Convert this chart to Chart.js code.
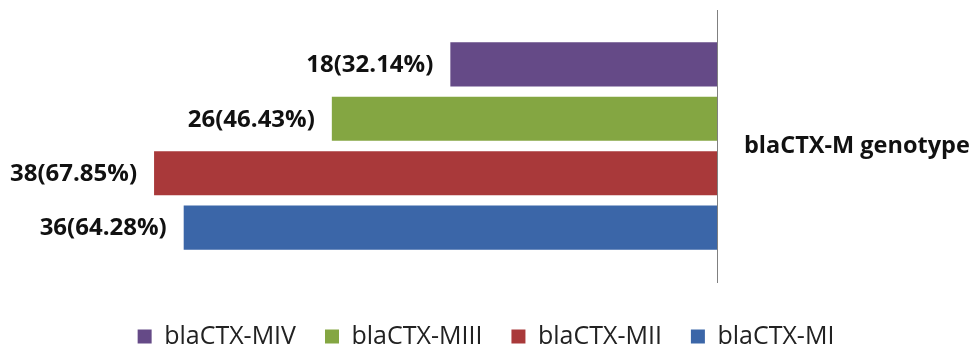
<!DOCTYPE html>
<html>
<head>
<meta charset="utf-8">
<script src="https://cdn.jsdelivr.net/npm/chart.js@4/dist/chart.umd.min.js"></script>
<style>
  html, body { margin: 0; padding: 0; background: #fff; }
  #wrap { width: 972px; height: 351px; }
</style>
</head>
<body>
<div id="wrap"><canvas id="chart"></canvas></div>
<script>
// --- datos ---
const categories = ['blaCTX-M genotype'];
const seriesNames = ['blaCTX-MIV', 'blaCTX-MIII', 'blaCTX-MII', 'blaCTX-MI'];
const seriesCounts = [18, 26, 38, 36];
const seriesPercents = ['32.14', '46.43', '67.85', '64.28'];
const seriesColors = ['#654a87', '#84a642', '#a9393a', '#3b66a8'];

const FONT = '"Open Sans", sans-serif';

// etiquetas "n(xx.xx%)" a la izquierda del extremo de cada barra
const barLabels = {
    id: 'barLabels',
    afterDatasetsDraw(chart) {
        const ctx = chart.ctx;
        ctx.save();
        ctx.font = 'bold 24px ' + FONT;
        ctx.fillStyle = '#111';
        ctx.textAlign = 'right';
        ctx.textBaseline = 'middle';
        chart.data.datasets.forEach((ds, i) => {
            const bar = chart.getDatasetMeta(i).data[0];
            if (!bar) return;
            ctx.fillText(seriesCounts[i] + '(' + seriesPercents[i] + '%)', bar.x - 17, bar.y + 1);
        });
        ctx.restore();
    }
};

const datasets = seriesNames.map((name, i) => ({
    label: name,
    data: [seriesCounts[i]],
    backgroundColor: seriesColors[i],
    borderWidth: 0,
    categoryPercentage: 0.8,
    barPercentage: 0.81
}));

new Chart(document.getElementById('chart'), {
    type: 'bar',
    data: { labels: categories, datasets: datasets },
    plugins: [barLabels],
    options: {
        indexAxis: 'y',
        responsive: true,
        maintainAspectRatio: false,
        animation: false,
        layout: { padding: { left: 0, right: 0, top: 10, bottom: 0 } },
        scales: {
            x: {
                display: false,
                reverse: true,
                min: 0,
                max: 48.4
            },
            y: {
                position: 'right',
                grid: { display: false, drawTicks: false },
                border: { display: true, color: '#808080', width: 1 },
                ticks: {
                    padding: 27,
                    color: '#111',
                    font: { family: FONT, size: 23.5, weight: 'bold' }
                },
                afterFit(scale) {
                    scale.width = 255;
                    scale.paddingTop = 0;
                    scale.paddingBottom = 0;
                }
            }
        },
        plugins: {
            tooltip: { enabled: false },
            legend: {
                position: 'bottom',
                maxHeight: 69,
                title: { display: true, text: ' ', font: { size: 10 }, padding: { top: 0, bottom: 1 } },
                labels: {
                    boxWidth: 14,
                    boxHeight: 14,
                    padding: 29,
                    color: '#222',
                    font: { family: FONT, size: 25 }
                }
            }
        }
    }
});
</script>
</body>
</html>
